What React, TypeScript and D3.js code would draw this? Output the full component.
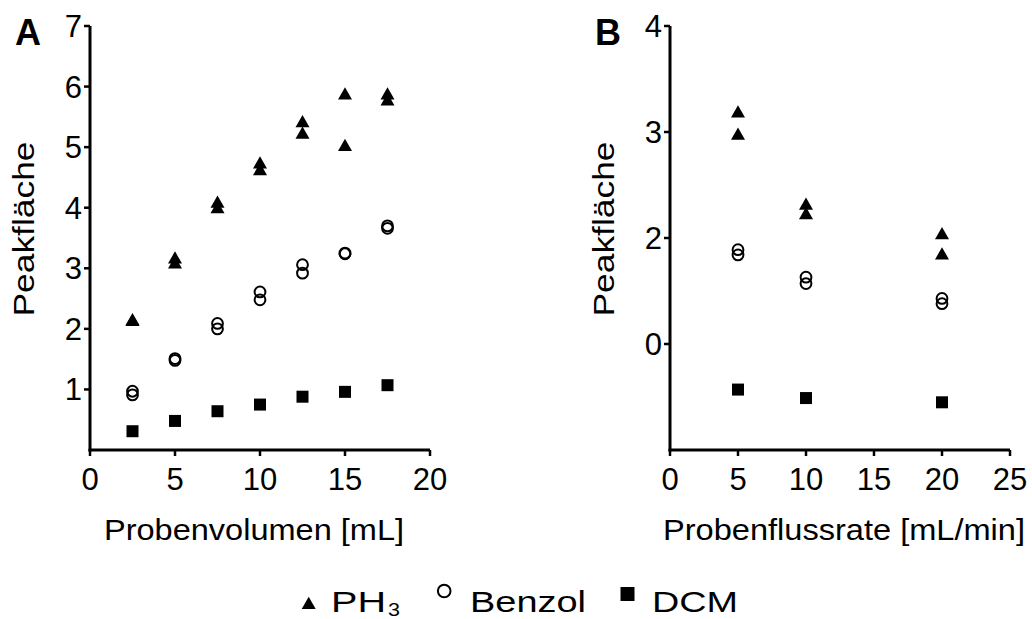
import React from "react";
import * as d3 from "d3";

// Panel A data
const volA = [2.5, 5, 7.5, 10, 12.5, 15, 17.5];
const ph3A1 = [2.15, 3.17, 4.09, 4.74, 5.42, 5.88, 5.88];
const ph3A2 = [2.14, 3.09, 4.0, 4.63, 5.23, 5.03, 5.78];
const benzolA1 = [0.97, 1.51, 2.09, 2.61, 3.06, 3.25, 3.7];
const benzolA2 = [0.91, 1.48, 2.0, 2.48, 2.92, 3.24, 3.66];
const dcmA = [0.31, 0.48, 0.64, 0.75, 0.88, 0.96, 1.07];
const xTicksA = [0, 5, 10, 15, 20];
const yTicksA = [1, 2, 3, 4, 5, 6, 7];

// Panel B data
const rateB = [5, 10, 20];
const ph3B1 = [3.19, 2.32, 2.04];
const ph3B2 = [2.98, 2.23, 1.85];
const benzolB1 = [1.89, 1.63, 1.43];
const benzolB2 = [1.84, 1.57, 1.38];
const dcmB = [0.57, 0.49, 0.45];
const xTicksB = [0, 5, 10, 15, 20, 25];
const yTicksB = [1, 2, 3, 4];
const yTickLabelsB = ["0", "2", "3", "4"];

const FONT = "'Liberation Sans', Arial, sans-serif";

function tri(x: number, y: number, s = 1) {
  return `M${x},${y - 6.7 * s}L${x + 7 * s},${y + 5.6 * s}L${x - 7 * s},${y + 5.6 * s}Z`;
}

type PanelProps = {
  left: number;
  xMax: number;
  yMax: number;
  xTicks: number[];
  yTicks: number[];
  yLabels: string[];
  letter: string;
  xTitle: string;
  xTitleLen: number;
  xTitleCx: number;
  xs: number[];
  ph1: number[];
  ph2: number[];
  bz1: number[];
  bz2: number[];
  dcm: number[];
};

function Panel(p: PanelProps) {
  const x = d3.scaleLinear().domain([0, p.xMax]).range([p.left, p.left + 340]);
  const y = d3.scaleLinear().domain([0, p.yMax]).range([450, 26]);
  const x0 = p.left;
  return (
    <g>
      <text x={p.left - 75} y={45} fontSize={36} fontWeight="bold" fontFamily={FONT}>
        {p.letter}
      </text>
      {/* y axis */}
      <line x1={x0} x2={x0} y1={y(p.yMax)} y2={451.5} stroke="#000" strokeWidth={3} />
      {p.yTicks.map((t, i) => (
        <g key={"yt" + i}>
          <line x1={x0 - 6} x2={x0} y1={y(t)} y2={y(t)} stroke="#000" strokeWidth={2.5} />
          <text x={x0 - 8} y={y(t) + 11} fontSize={31} textAnchor="end" fontFamily={FONT}>
            {p.yLabels[i]}
          </text>
        </g>
      ))}
      {/* x axis */}
      <line x1={x0 - 1.5} x2={x(p.xMax)} y1={450} y2={450} stroke="#000" strokeWidth={3} />
      {p.xTicks.map((t, i) => (
        <g key={"xt" + i}>
          <line x1={x(t)} x2={x(t)} y1={450} y2={456} stroke="#000" strokeWidth={2.5} />
          <text x={x(t)} y={490} fontSize={31} textAnchor="middle" fontFamily={FONT}>
            {t}
          </text>
        </g>
      ))}
      {/* titles */}
      <text
        x={p.xTitleCx}
        y={540}
        fontSize={30}
        textAnchor="middle"
        fontFamily={FONT}
        textLength={p.xTitleLen}
        lengthAdjust="spacingAndGlyphs"
      >
        {p.xTitle}
      </text>
      <text
        transform={`translate(${p.left - 56},229) rotate(-90)`}
        fontSize={30}
        textAnchor="middle"
        fontFamily={FONT}
        textLength={175}
        lengthAdjust="spacingAndGlyphs"
      >
        Peakfläche
      </text>
      {/* DCM squares */}
      {p.xs.map((v, i) => (
        <rect key={"d" + i} x={x(v) - 6} y={y(p.dcm[i]) - 6} width={12} height={12} fill="#000" />
      ))}
      {/* Benzol circles */}
      {p.xs.map((v, i) => (
        <g key={"b" + i}>
          <circle cx={x(v)} cy={y(p.bz1[i])} r={5.4} fill="none" stroke="#000" strokeWidth={2} />
          <circle cx={x(v)} cy={y(p.bz2[i])} r={5.4} fill="none" stroke="#000" strokeWidth={2} />
        </g>
      ))}
      {/* PH3 triangles */}
      {p.xs.map((v, i) => (
        <g key={"p" + i}>
          <path d={tri(x(v), y(p.ph1[i]))} fill="#000" />
          <path d={tri(x(v), y(p.ph2[i]))} fill="#000" />
        </g>
      ))}
    </g>
  );
}

export default function App() {
  return (
    <svg width={1032} height={619} style={{ position: "absolute", left: 0, top: 0, background: "#fff" }}>
      <rect width={1032} height={619} fill="#fff" />
      <Panel
        left={90}
        xMax={20}
        yMax={7}
        xTicks={xTicksA}
        yTicks={yTicksA}
        yLabels={yTicksA.map(String)}
        letter="A"
        xTitle="Probenvolumen [mL]"
        xTitleLen={300}
        xTitleCx={254}
        xs={volA}
        ph1={ph3A1}
        ph2={ph3A2}
        bz1={benzolA1}
        bz2={benzolA2}
        dcm={dcmA}
      />
      <Panel
        left={670}
        xMax={25}
        yMax={4}
        xTicks={xTicksB}
        yTicks={yTicksB}
        yLabels={yTickLabelsB}
        letter="B"
        xTitle="Probenflussrate [mL/min]"
        xTitleLen={362}
        xTitleCx={844}
        xs={rateB}
        ph1={ph3B1}
        ph2={ph3B2}
        bz1={benzolB1}
        bz2={benzolB2}
        dcm={dcmB}
      />
      {/* legend */}
      <g fontFamily={FONT} fontSize={30}>
        <path d={tri(308.7, 603.5, 1.0)} fill="#000" />
        <text x={331} y={611.5} textLength={55} lengthAdjust="spacingAndGlyphs">PH</text>
        <text x={388} y={616} fontSize={19} textLength={12} lengthAdjust="spacingAndGlyphs">3</text>
        <circle cx={444.2} cy={591} r={6.3} fill="none" stroke="#000" strokeWidth={2} />
        <text x={470} y={611.5} textLength={116} lengthAdjust="spacingAndGlyphs">Benzol</text>
        <rect x={620.5} y={587} width={14} height={14} fill="#000" />
        <text x={652} y={611.5} textLength={86} lengthAdjust="spacingAndGlyphs">DCM</text>
      </g>
    </svg>
  );
}
